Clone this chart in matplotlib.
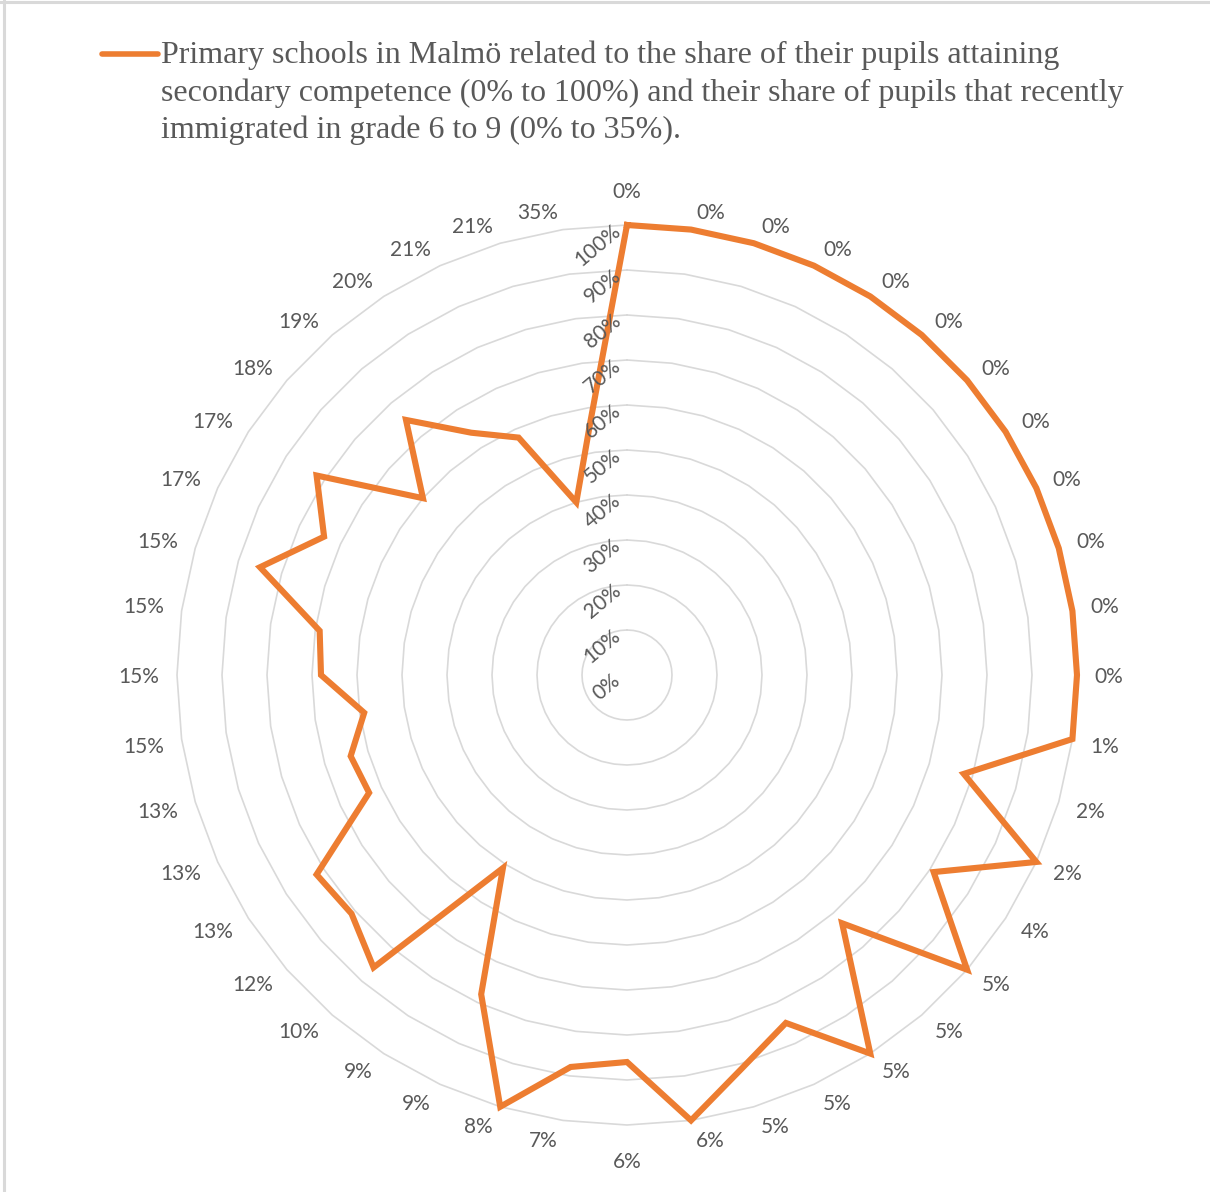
import numpy as np
import matplotlib
matplotlib.use("Agg")
import matplotlib.pyplot as plt
from matplotlib.lines import Line2D
from matplotlib.transforms import offset_copy

# share of recently immigrated pupils (grade 6-9), one spoke per school
school_labels = ["0%"] * 12 + [
    "1%", "2%", "2%", "4%", "5%", "5%", "5%", "5%", "5%", "6%", "6%",
    "7%", "8%", "9%", "9%", "10%", "12%", "13%", "13%", "13%",
    "15%", "15%", "15%", "15%", "17%", "17%", "18%", "19%", "20%",
    "21%", "21%", "35%",
]
# share of pupils attaining secondary competence
competence = [1.00] * 13 + [
    0.78, 1.00, 0.81, 1.00, 0.73, 1.00, 0.85, 0.91, 1.00, 0.86,
    0.88, 1.00, 0.78, 0.51, 0.86, 0.81, 0.82, 0.63, 0.64, 0.59,
    0.68, 0.69, 0.85, 0.74, 0.82, 0.60, 0.75, 0.64, 0.58, 0.40, 0.57,
]
ring_levels = [0.0, 0.1, 0.2, 0.3, 0.4, 0.5, 0.6, 0.7, 0.8, 0.9, 1.0]
ring_labels = ["0%", "10%", "20%", "30%", "40%", "50%", "60%", "70%", "80%", "90%", "100%"]
legend_lines = [
    "Primary schools in Malmö related to the share of their pupils attaining",
    "secondary competence (0% to 100%) and their share of pupils that recently",
    "immigrated in grade 6 to 9 (0% to 35%).",
]

W, H, DPI = 1210, 1192, 100
cx, cy, R = 627, 675, 450  # chart centre and outer radius in pixels
ORANGE = "#ED7D31"
GRID = "#D9D9D9"
TEXT = "#595959"

fig = plt.figure(figsize=(W / DPI, H / DPI), dpi=DPI)
ax = fig.add_axes([(cx - R) / W, (H - cy - R) / H, 2 * R / W, 2 * R / H],
                  projection="polar")
ax.set_theta_zero_location("N")
ax.set_theta_direction(-1)
ax.set_ylim(0, 1)
ax.grid(False)
ax.spines["polar"].set_visible(False)
ax.set_xticks([])
ax.set_yticks([])
ax.patch.set_alpha(0)

n = len(school_labels)
theta = np.arange(n) * 2 * np.pi / n
theta_c = np.append(theta, theta[0])

# polygon gridlines
for lvl in ring_levels[1:]:
    ax.plot(theta_c, [lvl] * (n + 1), color=GRID, lw=1.2, zorder=1, clip_on=False)

vals = np.append(competence, competence[0])
ax.plot(theta_c, vals, color=ORANGE, lw=4.4, solid_joinstyle="miter",
        zorder=3, clip_on=False)

# value axis labels along the top spoke
tick_tr = offset_copy(ax.transData, fig=fig, x=-9, y=-3, units="dots")
for lvl, lab in zip(ring_levels, ring_labels):
    ax.text(0, lvl, lab, transform=tick_tr, rotation=40, rotation_mode="anchor",
            ha="right", va="center", fontsize=15, family="Lato", color=TEXT,
            zorder=4)

# category labels just outside the outer ring
for t, lab in zip(theta, school_labels):
    sx = np.round(np.sin(t), 6)
    sy = np.round(np.cos(t), 6)
    if sx == 0:
        ha, dx, dy = "center", 0, 20 * np.sign(sy)
    else:
        ha = "left" if sx > 0 else "right"
        dx, dy = 3 * np.sign(sx), 4 * np.sign(sy)
    tr = offset_copy(ax.transData, fig=fig, x=dx, y=dy - 2, units="dots")
    ax.text(t, 1.033, lab, transform=tr, ha=ha, va="center", fontsize=15,
            family="Lato", color=TEXT)

# legend
fig.add_artist(Line2D([102 / W, 158 / W], [1 - 54 / H, 1 - 54 / H], color=ORANGE,
                      lw=4, solid_capstyle="round"))
for yb, line in zip([63, 100.5, 138], legend_lines):
    fig.text(161 / W, 1 - yb / H, line, fontsize=23, family="Liberation Serif",
             color=TEXT, va="baseline")

# chart area border
fig.add_artist(Line2D([0, 1], [1 - 1.5 / H, 1 - 1.5 / H], color=GRID, lw=2.2))
fig.add_artist(Line2D([3.5 / W, 3.5 / W], [0, 1], color=GRID, lw=2.2))

fig.savefig("out.png", dpi=DPI)
